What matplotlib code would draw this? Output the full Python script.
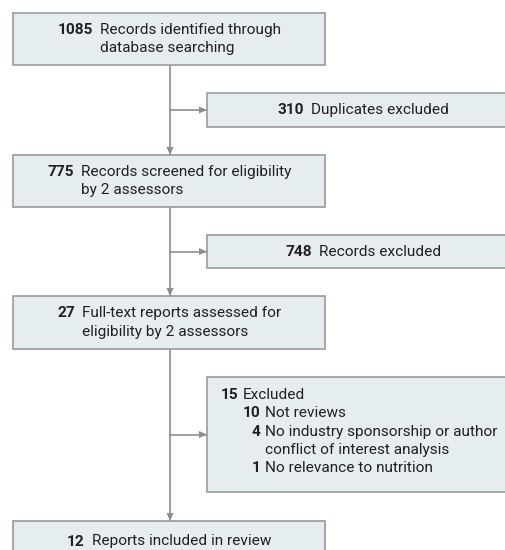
"""PRISMA-style flow diagram of report selection"""
import matplotlib
matplotlib.use("Agg")
import matplotlib.pyplot as plt
from matplotlib.patches import Rectangle, Polygon

# ---- data ----
main_counts = ["1085", "775", "27", "12"]
main_labels = [
    ["Records identified through", "database searching"],
    ["Records screened for eligibility", "by 2 assessors"],
    ["Full-text reports assessed for", "eligibility by 2 assessors"],
    ["Reports included in review"],
]
side_counts = ["310", "748", "15"]
side_labels = [
    ["Duplicates excluded"],
    ["Records excluded"],
    ["Excluded"],
]
# breakdown of the final exclusion box
reason_counts = ["10", "4", "1"]
reason_labels = [
    ["Not reviews"],
    ["No industry sponsorship or author", "conflict of interest analysis"],
    ["No relevance to nutrition"],
]

# ---- layout (pixel units, y grows downward) ----
W, H = 506, 550
main_x = (13, 325)
main_y = [(13, 65), (155, 207), (296, 349), (521, 562)]
side_x = (207, 519)
side_y = [(93, 127), (235, 268), (377, 492)]
trunk_x = 170

FILL = "#e6edf1"
EDGE = "#9b9b9b"
LINE = "#8e8e8e"
TXT = "#231f20"
FAMILY = ["Roboto", "DejaVu Sans"]
FS = 11.1
LH = 18.3  # line height in px
GAP = 7

fig = plt.figure(figsize=(W / 100, H / 100), dpi=100)
ax = fig.add_axes([0, 0, 1, 1])
ax.set_xlim(0, W)
ax.set_ylim(H, 0)
ax.axis("off")
fig.canvas.draw()
renderer = fig.canvas.get_renderer()


def text_w(s, bold=False):
    t = ax.text(0, 0, s, fontsize=FS, family=FAMILY,
                fontweight="bold" if bold else "normal")
    w = t.get_window_extent(renderer).width
    t.remove()
    return w


def box(x, y):
    ax.add_patch(Rectangle((x[0], y[0]), x[1] - x[0], y[1] - y[0],
                           facecolor=FILL, edgecolor=EDGE, lw=1.2, zorder=2))


def arrow_head(x, y, direction):
    L, hw = 8, 3.5
    if direction == "down":
        pts = [(x - hw, y - L), (x + hw, y - L), (x, y)]
    else:
        pts = [(x - L, y - hw), (x - L, y + hw), (x, y)]
    ax.add_patch(Polygon(pts, closed=True, facecolor=LINE, edgecolor="none", zorder=3))


def put(x, y, s, bold=False, ha="left"):
    ax.text(x, y, s, fontsize=FS, family=FAMILY, color=TXT, ha=ha, va="center",
            fontweight="bold" if bold else "normal", zorder=4)


def centered_block(xr, yr, num, lines):
    nw = text_w(num, bold=True)
    lw = max(text_w(s) for s in lines)
    block = nw + GAP + lw
    x0 = (xr[0] + xr[1]) / 2 - block / 2
    cy = (yr[0] + yr[1]) / 2
    n = len(lines)
    put(x0, cy - (n - 1) / 2 * LH, num, bold=True)
    for i, s in enumerate(lines):
        put(x0 + nw + GAP, cy + (i - (n - 1) / 2) * LH, s)


# connectors
ax.plot([trunk_x, trunk_x], [main_y[0][1], main_y[-1][0]], color=LINE, lw=1.2, zorder=1)
for yr in main_y[1:]:
    arrow_head(trunk_x, yr[0], "down")
for yr in side_y:
    cy = (yr[0] + yr[1]) / 2
    ax.plot([trunk_x, side_x[0]], [cy, cy], color=LINE, lw=1.2, zorder=1)
    arrow_head(side_x[0], cy, "right")

# main boxes
for yr, num, lines in zip(main_y, main_counts, main_labels):
    box(main_x, yr)
    centered_block(main_x, yr, num, lines)

# simple side boxes
for yr, num, lines in zip(side_y[:2], side_counts[:2], side_labels[:2]):
    box(side_x, yr)
    centered_block(side_x, yr, num, lines)

# detailed exclusion box
yr = side_y[2]
box(side_x, yr)
x_num = side_x[0] + 14
y = yr[0] + 18
nw = text_w(side_counts[2], bold=True)
put(x_num, y, side_counts[2], bold=True)
x_sub = x_num + nw + 4
put(x_sub, y, side_labels[2][0])
x_rnum = x_sub + 18
for num, lines in zip(reason_counts, reason_labels):
    y += LH
    put(x_rnum, y, num, bold=True, ha="right")
    for k, s in enumerate(lines):
        if k:
            y += LH
        put(x_rnum + 4, y, s)

fig.savefig("out.png", dpi=100)
